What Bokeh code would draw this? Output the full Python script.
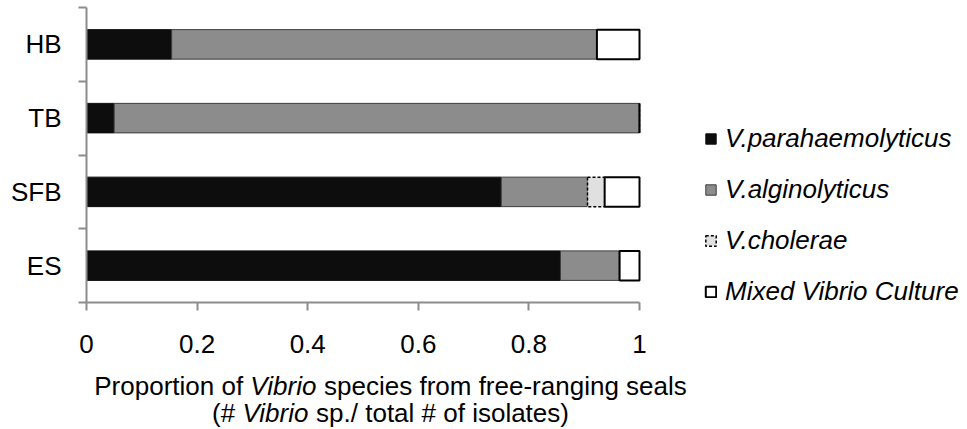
from bokeh.plotting import figure
from bokeh.models import FixedTicker, Legend, LegendItem, Label, Range1d, LinearAxis
from bokeh.embed import file_html
from bokeh.resources import INLINE

# ---- data ----
sites = ["ES", "SFB", "TB", "HB"]           # bottom -> top
parahaemolyticus = [0.857, 0.750, 0.050, 0.154]
alginolyticus    = [0.107, 0.156, 0.950, 0.769]
cholerae         = [0.000, 0.031, 0.000, 0.000]
mixed            = [0.036, 0.063, 0.000, 0.077]
series_names = ["V.parahaemolyticus", "V.alginolyticus", "V.cholerae", "Mixed Vibrio Culture"]
x_ticks = [0, 0.2, 0.4, 0.6, 0.8, 1.0]
x_tick_labels = ["0", "0.2", "0.4", "0.6", "0.8", "1"]

FONT = "Liberation Sans"
FS = 26
W, H = 967, 429
# plot-area geometry in pixels
PL, PR, PT, PB = 86, 639, 7, 302
xs = (PR - PL) / 1.0          # px per x unit
ysc = (PB - PT) / 4.0         # px per category

p = figure(width=W, height=H, output_backend="svg", toolbar_location=None,
           x_axis_location=None, y_axis_location=None, min_border=0,
           x_range=Range1d(-PL / xs, (W - PL) / xs),
           y_range=Range1d(-0.5 - (H - PB) / ysc, 3.5 + PT / ysc))
p.outline_line_color = None
p.grid.visible = False
p.background_fill_color = "white"
p.border_fill_color = "white"

ys = list(range(len(sites)))
series = [parahaemolyticus, alginolyticus, cholerae, mixed]
styles = [
    dict(fill_color="#0d0d0d", line_color="#0d0d0d", line_width=1),
    dict(fill_color="#8c8c8c", line_color="#3c3c3c", line_width=1),
    dict(fill_color="#e0e0e0", line_color="#000000", line_width=1.5, line_dash="3 2"),
    dict(fill_color="#ffffff", line_color="#000000", line_width=2),
]
left = [0.0] * len(sites)
renderers = []
for vals, st in zip(series, styles):
    right = [l + v for l, v in zip(left, vals)]
    r = p.hbar(y=ys, left=left, right=right, height=0.4, **st)
    renderers.append(r)
    left = right

# axes (fixed inside the canvas-sized frame)
xa = LinearAxis(fixed_location=-0.5, bounds=(0, 1))
xa.ticker = FixedTicker(ticks=x_ticks, minor_ticks=[])
xa.major_label_overrides = {t: s for t, s in zip(x_ticks, x_tick_labels)}
xa.axis_line_color = "#8c8c8c"
xa.axis_line_width = 2
xa.major_tick_line_color = "#8c8c8c"
xa.major_tick_line_width = 2
xa.major_tick_out = 8
xa.major_tick_in = 0
xa.minor_tick_line_color = None
xa.major_label_text_font = FONT
xa.major_label_text_font_size = f"{FS}px"
xa.major_label_text_color = "black"
xa.major_label_standoff = 24
p.add_layout(xa, "below")

ya = LinearAxis(fixed_location=0, bounds=(-0.5, 3.5))
ya.ticker = FixedTicker(ticks=ys, minor_ticks=[-0.5, 0.5, 1.5, 2.5, 3.5])
ya.major_label_overrides = {i: s for i, s in zip(ys, sites)}
ya.axis_line_color = "#8c8c8c"
ya.axis_line_width = 2
ya.major_tick_out = 0
ya.major_tick_in = 0
ya.minor_tick_line_color = "#8c8c8c"
ya.minor_tick_line_width = 2
ya.minor_tick_out = 8
ya.minor_tick_in = 0
ya.major_label_text_font = FONT
ya.major_label_text_font_size = f"{FS}px"
ya.major_label_text_color = "black"
ya.major_label_standoff = 17
p.add_layout(ya, "left")

# legend
items = [LegendItem(label=n, renderers=[r]) for n, r in zip(series_names, renderers)]
legend = Legend(items=items, location=(704, H - 307), orientation="vertical",
                glyph_width=13, glyph_height=13, label_standoff=8, spacing=20, label_height=30,
                padding=0, margin=0, border_line_color=None, background_fill_alpha=0,
                label_text_font=FONT, label_text_font_size=f"{FS}px",
                label_text_font_style="italic", label_text_color="black")
p.add_layout(legend, "center")

# axis title (mixed roman / italic), screen px from canvas bottom-left
c = 390.0
f = FS
sp = 0.278 * f
wv = 2.556 * f
a = c - 5.39 * f
b = c - 5.697 * f
y1 = H - 385
y2 = H - 412
common = dict(x_units="screen", y_units="screen", text_font=FONT, text_font_size=f"{FS}px",
              text_color="black", text_baseline="alphabetic")
p.add_layout(Label(x=a - sp, y=y1, text="Proportion of", text_align="right", **common))
p.add_layout(Label(x=a, y=y1, text="Vibrio", text_align="left", text_font_style="italic", **common))
p.add_layout(Label(x=a + wv + sp, y=y1, text="species from free-ranging seals", text_align="left", **common))
p.add_layout(Label(x=b - sp, y=y2, text="(#", text_align="right", **common))
p.add_layout(Label(x=b, y=y2, text="Vibrio", text_align="left", text_font_style="italic", **common))
p.add_layout(Label(x=b + wv + sp, y=y2, text="sp./ total # of isolates)", text_align="left", **common))

open("out.html", "w").write(file_html(p, INLINE))
